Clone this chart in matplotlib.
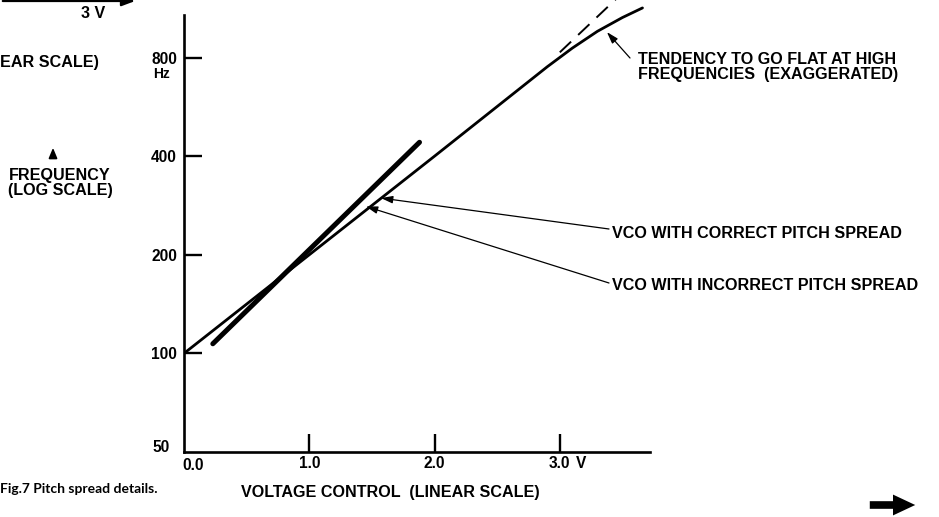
import matplotlib
matplotlib.use("Agg")
import matplotlib.pyplot as plt
from matplotlib.ticker import FixedLocator, NullLocator

W, H = 939, 517

# ---- data ----
correct_v = [0.0, 1.0, 2.0, 2.9, 3.1, 3.3, 3.5, 3.66]
correct_f = [100, 200, 400, 750, 855, 962, 1060, 1134]
ideal_ext_v = [3.0, 3.5]
ideal_ext_f = [830, 1260]
incorrect_v = [0.23, 1.88]
incorrect_f = [107, 441]

x_ticks = [1.0, 2.0, 3.0]
x_tick_labels = ["1.0", "2.0", "3.0"]
y_ticks = [100, 200, 400, 800]
y_tick_labels = ["100", "200", "400", "800"]

FONT = "Liberation Sans"
plt.rcParams['font.family'] = [FONT, 'DejaVu Sans']
FS = 11.6

fig = plt.figure(figsize=(W / 100, H / 100), dpi=100)


def fx(x):
    return x / W


def fy(y):
    return 1 - y / H


# axes placement in pixels: left 184, right 650, bottom 452, top 0
ax = fig.add_axes([fx(184), fy(452), (650 - 184) / W, 452 / H])
ax.set_yscale('log', base=2)
ax.set_xlim(0, 3.72)
ax.set_ylim(50, 1199)
for s in ['top', 'right']:
    ax.spines[s].set_visible(False)
for s in ['left', 'bottom']:
    ax.spines[s].set_linewidth(1.9)
ax.spines['left'].set_bounds(50, 1079)

ax.xaxis.set_major_locator(FixedLocator(x_ticks))
ax.set_xticklabels(x_tick_labels)
ax.xaxis.set_minor_locator(NullLocator())
ax.yaxis.set_major_locator(FixedLocator(y_ticks))
ax.set_yticklabels(y_tick_labels)
ax.yaxis.set_minor_locator(NullLocator())
ax.tick_params(axis='both', direction='in', length=13, width=1.7, color='black',
               labelsize=11.2)
ax.tick_params(axis='x', pad=3)
ax.tick_params(axis='y', pad=5)
for lab in ax.get_xticklabels() + ax.get_yticklabels():
    lab.set_fontweight('bold')

# extra axis labels
ax.annotate("0.0", xy=(0, 50), xytext=(9, -14), textcoords='offset pixels',
            ha='center', va='center', fontsize=11.2, fontweight='bold')
ax.annotate("50", xy=(0, 50), xytext=(-23, 4), textcoords='offset pixels',
            ha='center', va='center', fontsize=11.2, fontweight='bold')
ax.annotate("Hz", xy=(0, 800), xytext=(-22, -16), textcoords='offset pixels',
            ha='center', va='center', fontsize=10, fontweight='bold')
ax.annotate("V", xy=(3.0, 50), xytext=(21, -4), textcoords='offset pixels',
            ha='center', va='top', fontsize=11.2, fontweight='bold')

# curves
ax.plot(correct_v, correct_f, color='black', lw=2.0, solid_capstyle='round')
ax.plot(ideal_ext_v, ideal_ext_f, color='black', lw=1.4, dashes=(8, 5))
ax.plot(incorrect_v, incorrect_f, color='black', lw=3.6, solid_capstyle='round')

# annotations with arrows
arrow_kw = dict(arrowstyle='-|>,head_length=0.7,head_width=0.22', color='black',
                lw=0.9, shrinkA=0, shrinkB=0)
ax.annotate("", xy=(1.572, 298), xytext=(fx(609), fy(229)),
            textcoords='figure fraction', arrowprops=arrow_kw)
ax.annotate("", xy=(1.452, 281), xytext=(fx(609), fy(283)),
            textcoords='figure fraction', arrowprops=arrow_kw)
ax.annotate("", xy=(3.376, 957), xytext=(fx(630), fy(58)),
            textcoords='figure fraction', arrowprops=arrow_kw)

txt = dict(fontsize=FS, fontweight='bold', color='black')
fig.text(fx(612), fy(233), "VCO WITH CORRECT PITCH SPREAD", va='center', ha='left', **txt)
fig.text(fx(612), fy(286), "VCO WITH INCORRECT PITCH SPREAD", va='center', ha='left', **txt)
fig.text(fx(638), fy(67), "TENDENCY TO GO FLAT AT HIGH\nFREQUENCIES  (EXAGGERATED)",
         va='center', ha='left', linespacing=0.97, **txt)
fig.text(fx(390), fy(493), "VOLTAGE CONTROL  (LINEAR SCALE)", va='center', ha='center', **txt)
fig.text(fx(60), fy(183), "FREQUENCY\n(LOG SCALE)", va='center', ha='center',
         linespacing=0.97, **txt)
fig.text(fx(0), fy(62), "EAR SCALE)", va='center', ha='left', **txt)
fig.text(fx(93), fy(14), "3 V", va='center', ha='center', **txt)
fig.text(fx(0), fy(489), "Fig.7 Pitch spread details.", va='center', ha='left',
         fontsize=10, fontweight='bold', family=['Lato', 'DejaVu Sans'])

# small up arrow next to frequency label
fig.add_artist(matplotlib.patches.FancyArrowPatch(
    (fx(53), fy(160)), (fx(53), fy(145)), transform=fig.transFigure,
    arrowstyle='-|>,head_length=0.6,head_width=0.25', color='black', lw=1.3,
    mutation_scale=10))

# cut-off arrow at the very top-left
fig.add_artist(matplotlib.patches.FancyArrowPatch(
    (fx(0), fy(1)), (fx(138), fy(1)), transform=fig.transFigure,
    arrowstyle='-|>,head_length=0.8,head_width=0.3', color='black', lw=1.6,
    mutation_scale=10))

# big bold arrow at bottom-right
fig.add_artist(matplotlib.patches.FancyArrowPatch(
    (fx(867), fy(505)), (fx(918), fy(505)), transform=fig.transFigure,
    arrowstyle='simple,head_length=1.6,head_width=1.5,tail_width=0.55',
    color='black', lw=0, mutation_scale=10))

fig.savefig("out.png", dpi=100)
